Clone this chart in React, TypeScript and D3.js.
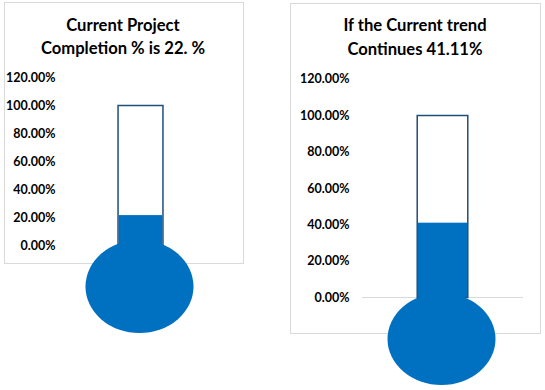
import React from "react";
import * as d3 from "d3";

const categories = ["Current Project Completion", "If the Current trend Continues"];
const values = [0.22, 0.4111];
const titleLines = [
  ["Current Project", "Completion % is 22. %"],
  ["If the Current trend", "Continues 41.11%"],
];
const tickValues = [0, 0.2, 0.4, 0.6, 0.8, 1.0, 1.2];
const target = 1.0;

const panels = [
  { frame: [4.5, 2.5, 239, 261], plotX: [69, 212], plotY: [246, 77.4], labelX: 55.5, titleX: 123, titleY: [25, 48], axisLine: false, bulb: { cy: 286.5, rx: 54, ry: 46.5 } },
  { frame: [290.5, 3.5, 250, 330], plotX: [362, 523], plotY: [297.5, 79.1], labelX: 349.5, titleX: 415, titleY: [25, 49], axisLine: true, bulb: { cy: 339, rx: 54, ry: 46 } },
];

const FONT = "Lato, 'Open Sans', sans-serif";
const BLUE = "#0070C0";
const OUTLINE = "#1F4E79";

function Thermo({ i }: { i: number }) {
  const p = panels[i];
  const y = d3.scaleLinear().domain([0, 1.2]).range(p.plotY);
  const x = d3.scaleBand().domain([categories[i]]).range(p.plotX).paddingInner(0.5).paddingOuter(0.546);
  const bx = x(categories[i])!;
  const bw = x.bandwidth();
  const fmt = d3.format(".2%");
  return (
    <g>
      <rect x={p.frame[0]} y={p.frame[1]} width={p.frame[2]} height={p.frame[3]} fill="#fff" stroke="#d9d9d9" strokeWidth={1} />
      {titleLines[i].map((t, k) => (
        <text key={k} x={p.titleX} y={p.titleY[k]} dy="0.35em" textAnchor="middle" fontFamily={FONT} fontWeight={700} fontSize={16.6} fill="#000">
          {t}
        </text>
      ))}
      {tickValues.map((t) => (
        <text key={t} x={p.labelX} y={y(t)} dy="0.35em" textAnchor="end" fontFamily={FONT} fontWeight={700} fontSize={12.5} fill="#000">
          {fmt(t)}
        </text>
      ))}
      {p.axisLine && <line x1={p.plotX[0]} x2={p.plotX[1]} y1={y(0)} y2={y(0)} stroke="#d9d9d9" strokeWidth={1} />}
      <rect x={bx} y={y(target)} width={bw} height={y(0) - y(target)} fill="#fff" stroke={OUTLINE} strokeWidth={1.5} />
      <rect x={bx + 0.75} y={y(values[i])} width={bw - 1.5} height={y(0) - y(values[i])} fill={BLUE} />
      <ellipse cx={bx + bw / 2 - 1} cy={p.bulb.cy} rx={p.bulb.rx} ry={p.bulb.ry} fill={BLUE} />
    </g>
  );
}

export default function App() {
  return (
    <svg width={545} height={390} style={{ position: "absolute", left: 0, top: 0 }}>
      <rect width={545} height={390} fill="#fff" />
      <Thermo i={0} />
      <Thermo i={1} />
    </svg>
  );
}
